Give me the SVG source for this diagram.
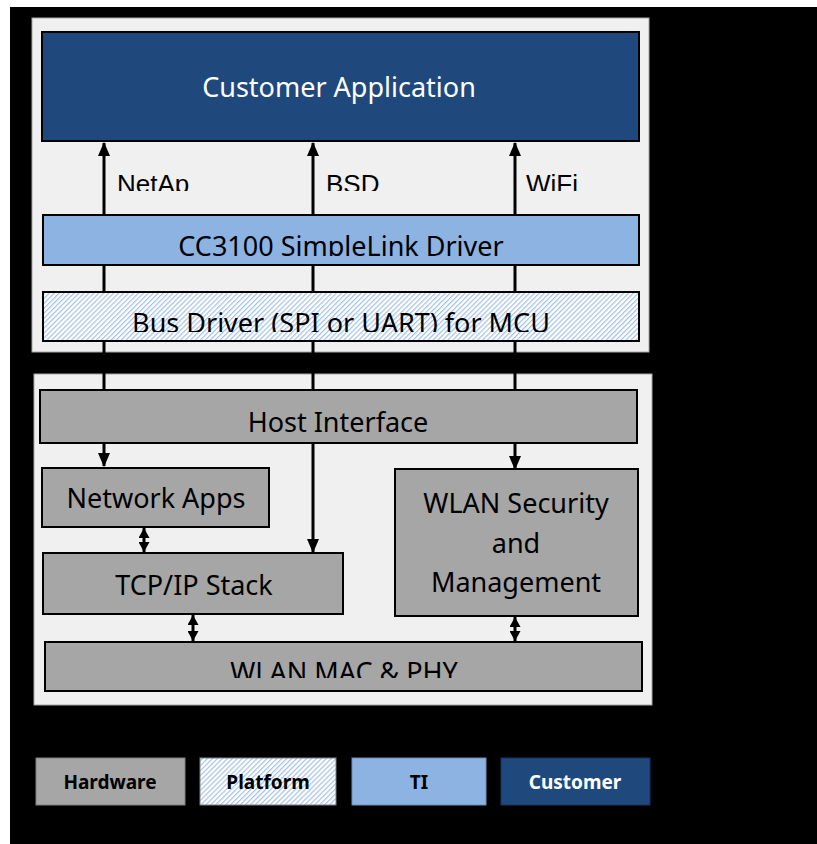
<svg xmlns="http://www.w3.org/2000/svg" width="817" height="844" viewBox="0 0 817 844">
<defs>
  <style>
    .panel{fill:#F0F0F0;stroke:#A6A6A6;stroke-width:1}
    .hw{fill:#A6A6A6;stroke:#000;stroke-width:2}
    .ti{fill:#8DB3E2;stroke:#000;stroke-width:2}
    .cust{fill:#1F497D;stroke:#000;stroke-width:2}
    .plat{fill:url(#hatch);stroke:#000;stroke-width:2}
    .t{font-family:"Noto Sans","Open Sans",sans-serif;font-size:27px;fill:#000;text-anchor:middle}
    .lbl{font-family:"Liberation Sans",Arial,sans-serif;font-size:26px;fill:#000}
    .lg{font-family:"Noto Sans","Open Sans",sans-serif;font-size:19px;font-weight:bold;fill:#000;text-anchor:middle}
    .conn line{stroke:#000;stroke-width:3}
  </style>
  <pattern id="hatch" width="3.5" height="3.5" patternUnits="userSpaceOnUse" patternTransform="rotate(45)">
    <rect width="3.5" height="3.5" fill="#FFFFFF"/>
    <rect width="1.2" height="3.5" fill="#A3C1E6"/>
  </pattern>
  <marker id="ah" viewBox="0 0 14 12" refX="13" refY="6" markerWidth="14" markerHeight="12" markerUnits="userSpaceOnUse" orient="auto-start-reverse">
    <path d="M0,0 L14,6 L0,12 Z" fill="#000"/>
  </marker>
  <marker id="ah2" viewBox="0 0 10 11" refX="10" refY="5.5" markerWidth="10" markerHeight="11" markerUnits="userSpaceOnUse" orient="auto-start-reverse">
    <path d="M0,0 L10,5.5 L0,11 Z" fill="#000"/>
  </marker>
  <clipPath id="clipLbl"><rect x="0" y="0" width="817" height="191"/></clipPath>
  <clipPath id="clipCC"><rect x="0" y="0" width="817" height="256"/></clipPath>
  <clipPath id="clipBus"><rect x="0" y="0" width="817" height="332"/></clipPath>
  <clipPath id="clipMac"><rect x="0" y="0" width="817" height="678"/></clipPath>
</defs>

<rect x="0" y="0" width="817" height="844" fill="#FFFFFF"/>
<rect x="10" y="7" width="807" height="837" fill="#000000"/>

<g id="panel-host">
  <rect class="panel" x="32" y="18" width="617" height="334"/>
</g>
<g id="panel-device">
  <rect class="panel" x="34" y="374" width="618" height="331"/>
</g>

<g id="connectors" class="conn">
  <line x1="104" y1="215" x2="104" y2="143" marker-end="url(#ah)"/>
  <line x1="313" y1="215" x2="313" y2="143" marker-end="url(#ah)"/>
  <line x1="515" y1="215" x2="515" y2="143" marker-end="url(#ah)"/>
  <line x1="104" y1="215" x2="104" y2="466" marker-end="url(#ah)"/>
  <line x1="313" y1="215" x2="313" y2="552" marker-end="url(#ah)"/>
  <line x1="515" y1="215" x2="515" y2="469" marker-end="url(#ah)"/>
  <line x1="144" y1="528" x2="144" y2="552" marker-start="url(#ah2)" marker-end="url(#ah2)"/>
  <line x1="193" y1="615" x2="193" y2="641" marker-start="url(#ah2)" marker-end="url(#ah2)"/>
  <line x1="515" y1="617" x2="515" y2="641" marker-start="url(#ah2)" marker-end="url(#ah2)"/>
</g>

<g id="labels">
  <g clip-path="url(#clipLbl)">
    <text class="lbl" x="117" y="193">NetAp</text>
    <text class="lbl" x="326" y="193">BSD</text>
    <text class="lbl" x="526" y="193">WiFi</text>
  </g>
</g>

<g id="customer-application">
  <rect class="cust" x="42" y="32" width="597" height="109"/>
  <text class="t" x="339" y="97" style="fill:#FFFFFF">Customer Application</text>
</g>

<g id="simplelink-driver">
  <rect class="ti" x="43" y="215" width="596" height="50"/>
  <text class="t" x="341" y="256" clip-path="url(#clipCC)">CC3100 SimpleLink Driver</text>
</g>

<g id="bus-driver">
  <rect class="plat" x="43" y="292" width="596" height="49"/>
  <text class="t" x="341" y="333" clip-path="url(#clipBus)">Bus Driver (SPI or UART) for MCU</text>
</g>

<g id="host-interface">
  <rect class="hw" x="40" y="390" width="597" height="53"/>
  <text class="t" x="338" y="432">Host Interface</text>
</g>

<g id="network-apps">
  <rect class="hw" x="42" y="468" width="227" height="59"/>
  <text class="t" x="156" y="508">Network Apps</text>
</g>

<g id="tcpip-stack">
  <rect class="hw" x="43" y="553" width="300" height="61"/>
  <text class="t" x="194" y="595">TCP/IP Stack</text>
</g>

<g id="wlan-security">
  <rect class="hw" x="395" y="469" width="243" height="147"/>
  <text class="t" x="516" y="513">WLAN Security</text>
  <text class="t" x="516" y="553">and</text>
  <text class="t" x="516" y="592">Management</text>
</g>

<g id="wlan-mac-phy">
  <rect class="hw" x="45" y="642" width="597" height="49"/>
  <text class="t" x="344" y="682" clip-path="url(#clipMac)">WLAN MAC &amp; PHY</text>
</g>

<g id="legend-hardware">
  <rect x="36" y="758" width="149" height="47" fill="#A6A6A6" stroke="#808080" stroke-width="1"/>
  <text class="lg" x="110" y="789">Hardware</text>
</g>
<g id="legend-platform">
  <rect x="200" y="758" width="136" height="47" fill="url(#hatch)" stroke="#808080" stroke-width="1"/>
  <text class="lg" x="268" y="789">Platform</text>
</g>
<g id="legend-ti">
  <rect x="352" y="758" width="134" height="47" fill="#8DB3E2" stroke="#6F8FB8" stroke-width="1"/>
  <text class="lg" x="419" y="789">TI</text>
</g>
<g id="legend-customer">
  <rect x="501" y="758" width="149" height="47" fill="#1F497D" stroke="#17375E" stroke-width="1"/>
  <text class="lg" x="575" y="789" style="fill:#FFFFFF">Customer</text>
</g>
</svg>
